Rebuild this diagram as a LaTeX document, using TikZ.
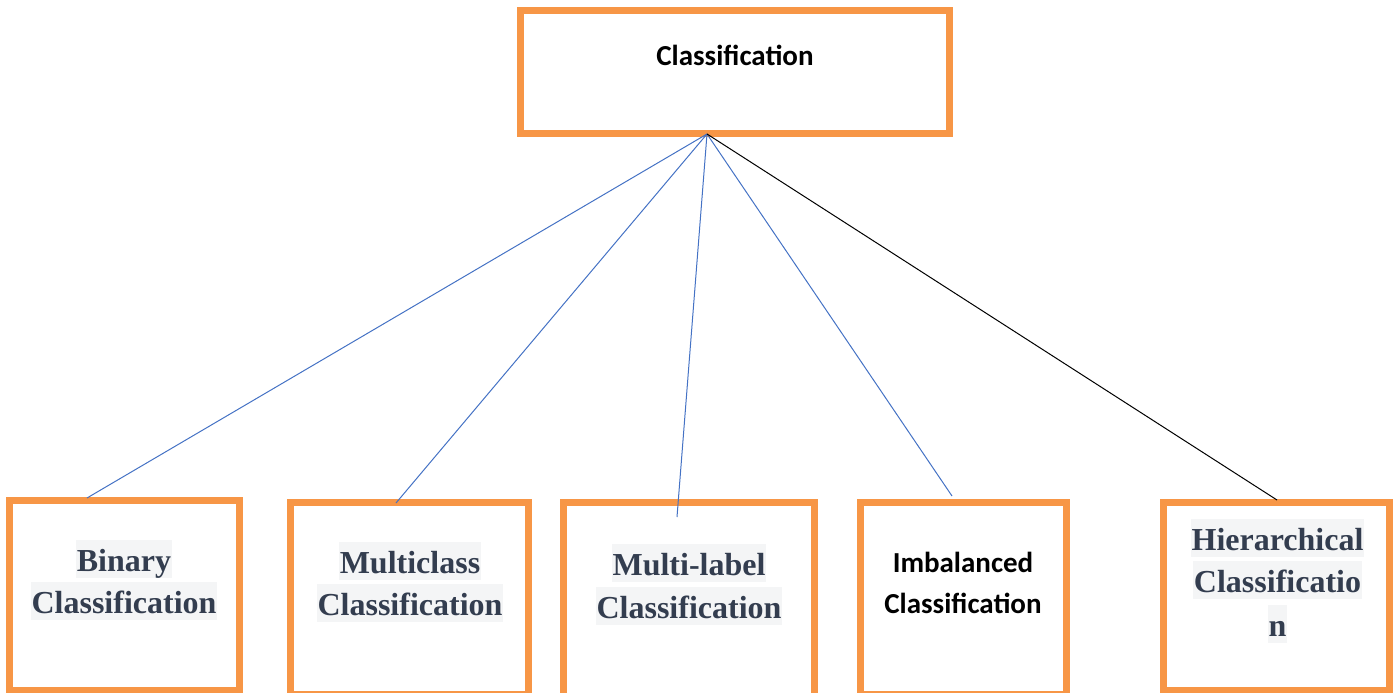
\documentclass[tikz,border=0pt]{standalone}
\usepackage{fontspec}
\newfontfamily\serifb{Liberation Serif}
\newfontfamily\carl{Carlito}
\definecolor{borange}{HTML}{F79646}
\definecolor{lblue}{HTML}{4472C4}
\definecolor{slate}{HTML}{333D4F}
\definecolor{hl}{HTML}{F4F5F6}
\tikzset{
  obox/.style={draw=borange, line width=6.6pt, fill=white, inner sep=0pt},
  sline/.style={font=\serifb\bfseries\fontsize{32}{38}\selectfont, text=slate, fill=hl,
     inner xsep=1pt, inner ysep=0pt, text height=31pt, text depth=7pt, anchor=base},
  cline/.style={font=\carl\bfseries\fontsize{29}{35}\selectfont, text=black, inner sep=0pt, anchor=base},
  bconn/.style={draw=lblue, line width=1pt},
  kconn/.style={draw=black, line width=1pt}
}
\begin{document}
\begin{tikzpicture}[x=1pt,y=-1pt]
\useasboundingbox (0,0) rectangle (1393,693);
% boxes
\node[obox, minimum width=429.4pt, minimum height=123.4pt] (top) at (735,72) {};
\node[obox, minimum width=230.4pt, minimum height=190.4pt] (bin) at (124.5,595.5) {};
\node[obox, minimum width=238.4pt, minimum height=192pt] (mcl) at (409.5,598.3) {};
\node[obox, minimum width=251.4pt, minimum height=207.7pt] (mlb) at (689,606.15) {};
\node[obox, minimum width=206.4pt, minimum height=192pt] (imb) at (963.5,598.3) {};
\node[obox, minimum width=226.4pt, minimum height=188.4pt] (hie) at (1276.5,596.5) {};
% connector points
\coordinate (apex) at (707,134);
\coordinate (ebin) at (87,498);
\coordinate (emcl) at (396,503);
\coordinate (emlb) at (677,517);
\coordinate (eimb) at (952,496);
\coordinate (ehie) at (1277,500);
\draw[bconn] (apex) -- (ebin);
\draw[bconn] (apex) -- (emcl);
\draw[bconn] (apex) -- (emlb);
\draw[bconn] (apex) -- (eimb);
\draw[kconn] (apex) -- (ehie);
% texts
\node[cline] (ttop) at (735,66) {Classification};
\node[sline] (tb1) at (124,571) {Binary};
\node[sline] (tb2) at (124,613) {Classification};
\node[sline] (tm1) at (410,573) {Multiclass};
\node[sline] (tm2) at (410,615) {Classification};
\node[sline] (tl1) at (689,575) {Multi-label};
\node[sline] (tl2) at (689,618) {Classification};
\node[cline] (ti1) at (963,572) {Imbalanced};
\node[cline] (ti2) at (963,613) {Classification};
\node[sline] (th1) at (1277.5,550) {Hierarchical};
\node[sline] (th2) at (1277.5,592) {Classificatio};
\node[sline] (th3) at (1277.5,636) {n};
\end{tikzpicture}
\end{document}
